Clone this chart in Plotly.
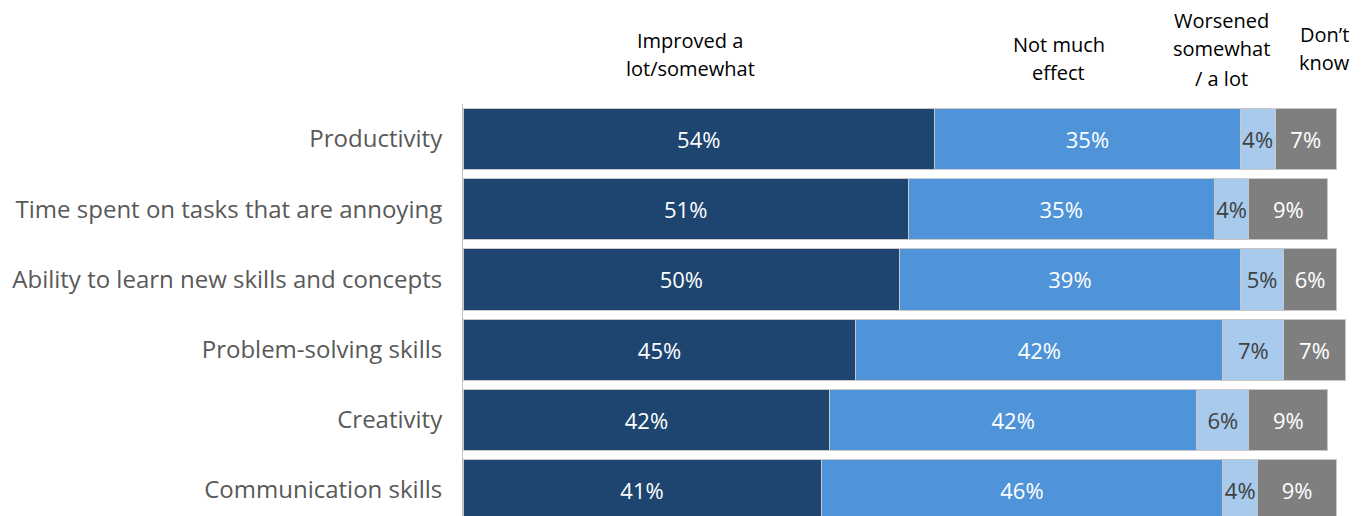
import plotly.graph_objects as go

categories = [
    "Productivity",
    "Time spent on tasks that are annoying",
    "Ability to learn new skills and concepts",
    "Problem-solving skills",
    "Creativity",
    "Communication skills",
]
improved = [54, 51, 50, 45, 42, 41]
no_effect = [35, 35, 39, 42, 42, 46]
worsened = [4, 4, 5, 7, 6, 4]
dont_know = [7, 9, 6, 7, 9, 9]

# name lines, values, fill, label colour, header x (in %), header line y's (px from top)
series = [
    (["Improved a", "lot/somewhat"], improved, "#1d4570", "white", 26.0, [40, 69]),
    (["Not much", "effect"], no_effect, "#4f94d8", "white", 68.2, [44, 73]),
    (["Worsened", "somewhat", "/ a lot"], worsened, "#a8caec", "#404040", 86.8, [20, 49, 78]),
    (["Don’t", "know"], dont_know, "#7f7f7f", "white", 98.6, [35, 63]),
]

FONT = "Open Sans, Noto Sans, sans-serif"
W, H = 1366, 516
ML, MT = 463, 104
plot_h = H - MT

fig = go.Figure()
for lines, vals, color, tcolor, hx, hys in series:
    fig.add_trace(go.Bar(
        y=categories,
        x=vals,
        orientation="h",
        name=" ".join(lines),
        marker=dict(color=color, line=dict(color="#c8c8c8", width=1)),
        text=[f"{v}%" for v in vals],
        textposition="inside",
        insidetextanchor="middle",
        textangle=0,
        constraintext="none",
        textfont=dict(family=FONT, size=22, color=tcolor),
        cliponaxis=True,
    ))
    for line, hy in zip(lines, hys):
        fig.add_annotation(
            x=hx, xref="x",
            y=(H - hy) / plot_h, yref="paper",
            text=line, showarrow=False,
            xanchor="center", yanchor="middle",
            font=dict(family=FONT, size=20, color="#000000"),
        )

fig.update_layout(
    width=W, height=H,
    barmode="stack",
    bargap=0.13,
    showlegend=False,
    plot_bgcolor="white",
    paper_bgcolor="white",
    margin=dict(l=ML, r=0, t=MT, b=0),
    xaxis=dict(range=[0, 103.4], visible=False, fixedrange=True),
    yaxis=dict(
        categoryorder="array", categoryarray=categories,
        range=[5.37, -0.5],
        showline=True, linecolor="#bfbfbf", linewidth=1,
        showgrid=False, ticks="", ticklabelstandoff=15,
        tickfont=dict(family=FONT, size=24, color="#595959"),
    ),
)

fig.write_html("out.html")
